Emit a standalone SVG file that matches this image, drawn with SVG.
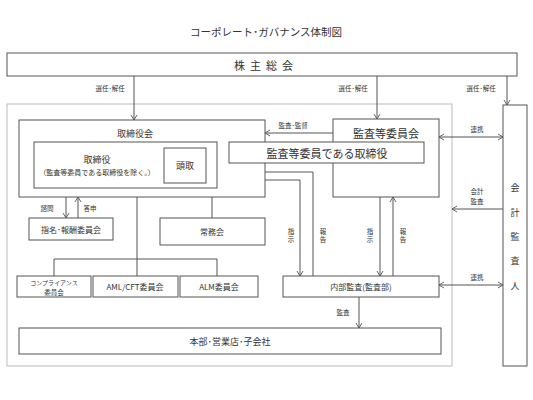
<svg xmlns="http://www.w3.org/2000/svg" width="533" height="400" viewBox="0 0 533 400">
<style>
text{font-family:"Noto Sans CJK JP","Noto Sans",sans-serif;fill:#333;text-anchor:middle;dominant-baseline:central}
.box{fill:#fff;stroke:#555;stroke-width:1}
.ln{fill:none;stroke:#555;stroke-width:1}
.s{font-size:6.5px}
.v{font-size:6.5px;writing-mode:vertical-rl;letter-spacing:1.5px}
.m{font-size:9px}
.l{font-size:11px}
</style>
<defs>
<marker id="a" markerUnits="userSpaceOnUse" markerWidth="8" markerHeight="8" refX="6" refY="4" orient="auto-start-reverse">
<path d="M1,1 L6,4 L1,7" fill="none" stroke="#555" stroke-width="0.9"/>
</marker>
</defs>
<rect width="533" height="400" fill="#fff"/>
<text x="266" y="31" style="font-size:10.5px">コーポレート･ガバナンス体制図</text>
<rect x="7" y="104" width="445" height="262" fill="none" stroke="#bbb" stroke-width="1"/>
<g id="connectors">
<path class="ln" d="M134,76 V120" marker-end="url(#a)"/>
<path class="ln" d="M377,76 V119" marker-end="url(#a)"/>
<path class="ln" d="M507,76 V105" marker-end="url(#a)"/>
<path class="ln" d="M333,133 H265" marker-end="url(#a)"/>
<path class="ln" d="M439,137 H503" marker-start="url(#a)" marker-end="url(#a)"/>
<path class="ln" d="M503,209 H452" marker-end="url(#a)"/>
<path class="ln" d="M439,285 H503" marker-start="url(#a)" marker-end="url(#a)"/>
<path class="ln" d="M313,276 V172 H206" marker-end="url(#a)"/>
<path class="ln" d="M206,180 H300 V276" marker-end="url(#a)"/>
<path class="ln" d="M380,197 V276" marker-end="url(#a)"/>
<path class="ln" d="M393,276 V197" marker-end="url(#a)"/>
<path class="ln" d="M359,297 V328" marker-end="url(#a)"/>
<path class="ln" d="M66,197 V218" marker-end="url(#a)"/>
<path class="ln" d="M78,218 V197" marker-end="url(#a)"/>
<path class="ln" d="M212,197 V218"/>
<path class="ln" d="M137,197 V276 M54,276 V259 H217 V276"/>
</g>
<g id="labels">
<text class="s" x="110" y="88">選任･解任</text>
<text class="s" x="353" y="88">選任･解任</text>
<text class="s" x="481" y="88">選任･解任</text>
<text class="s" x="293" y="125">監査･監督</text>
<text class="s" x="477" y="129">連携</text>
<text class="s" x="477" y="191">会計</text>
<text class="s" x="477" y="200.5">監査</text>
<text class="s" x="477" y="277">連携</text>
<text class="v" x="291" y="236">指示</text>
<text class="v" x="323" y="236">報告</text>
<text class="v" x="370" y="236">指示</text>
<text class="v" x="403" y="236">報告</text>
<text class="s" x="343" y="312">監査</text>
<text class="s" x="47" y="208">諮問</text>
<text class="s" x="90" y="208">答申</text>
</g>
<g id="shareholders">
<rect class="box" x="7" y="53" width="510" height="23"/>
<text class="l" x="266" y="65" letter-spacing="5">株主総会</text>
</g>
<g id="auditor">
<rect class="box" x="503" y="105" width="24" height="261"/>
<text class="m" x="515" y="187">会</text>
<text class="m" x="515" y="212">計</text>
<text class="m" x="515" y="236">監</text>
<text class="m" x="515" y="260">査</text>
<text class="m" x="515" y="285">人</text>
</g>
<g id="board">
<rect class="box" x="19" y="120" width="246" height="77"/>
<text class="m" x="135" y="133">取締役会</text>
</g>
<g id="directors">
<rect class="box" x="34" y="142" width="183" height="46"/>
<text class="m" x="97" y="159">取締役</text>
<text style="font-size:7px" x="97" y="172">（監査等委員である取締役を除く。）</text>
</g>
<g id="president">
<rect class="box" x="164" y="148" width="42" height="35"/>
<text class="m" x="185" y="165">頭取</text>
</g>
<g id="audit-committee">
<rect class="box" x="333" y="119" width="106" height="78"/>
<text class="l" x="386" y="133">監査等委員会</text>
</g>
<g id="audit-directors">
<rect class="box" x="229" y="142" width="195" height="21"/>
<text class="l" x="327" y="153">監査等委員である取締役</text>
</g>
<g id="nomination">
<rect class="box" x="29" y="218" width="84" height="22"/>
<text style="font-size:8px" x="71" y="229">指名･報酬委員会</text>
</g>
<g id="executive">
<rect class="box" x="160" y="218" width="105" height="27"/>
<text style="font-size:8px" x="212" y="231">常務会</text>
</g>
<g id="compliance">
<rect class="box" x="17" y="276" width="74" height="21"/>
<text style="font-size:6px" x="54" y="282">コンプライアンス</text>
<text style="font-size:6.5px" x="54" y="291.5">委員会</text>
</g>
<g id="amlcft">
<rect class="box" x="93" y="276" width="85" height="21"/>
<text style="font-size:8px" x="135" y="286">AML/CFT委員会</text>
</g>
<g id="alm">
<rect class="box" x="180" y="276" width="78" height="21"/>
<text style="font-size:8px" x="219" y="286">ALM委員会</text>
</g>
<g id="internal-audit">
<rect class="box" x="283" y="276" width="156" height="21"/>
<text style="font-size:8px" x="361" y="286">内部監査(監査部)</text>
</g>
<g id="branches">
<rect class="box" x="19" y="328" width="422" height="26"/>
<text class="m" x="230" y="341">本部･営業店･子会社</text>
</g>
</svg>
